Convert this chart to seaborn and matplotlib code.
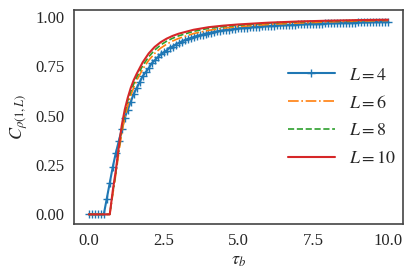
import numpy as np
import matplotlib
matplotlib.use("Agg")
import matplotlib.pyplot as plt
import seaborn as sns

# ---------------------------
# Data
# ---------------------------
tau_l4 = np.round(np.arange(0, 101) * 0.1, 1)
c_l4 = [
    0.0, 0.0, 0.0, 0.0, 0.0, 0.0, 0.08, 0.16, 0.24, 0.31,
    0.37, 0.43, 0.49, 0.53, 0.57, 0.61, 0.64, 0.67, 0.70, 0.72,
    0.74, 0.765, 0.78, 0.795, 0.81, 0.82, 0.83, 0.845, 0.85, 0.86,
    0.868, 0.875, 0.882, 0.888, 0.893, 0.898, 0.903, 0.907, 0.911, 0.915,
    0.918, 0.921, 0.924, 0.927, 0.930, 0.932, 0.934, 0.936, 0.938, 0.940,
    0.942, 0.943, 0.945, 0.946, 0.947, 0.949, 0.950, 0.951, 0.952, 0.953,
    0.954, 0.955, 0.956, 0.957, 0.957, 0.958, 0.959, 0.960, 0.960, 0.961,
    0.962, 0.962, 0.963, 0.964, 0.964, 0.965, 0.965, 0.966, 0.966, 0.967,
    0.967, 0.968, 0.968, 0.969, 0.969, 0.970, 0.970, 0.970, 0.971, 0.971,
    0.972, 0.972, 0.972, 0.973, 0.973, 0.974, 0.974, 0.974, 0.975, 0.975,
    0.975,
]

tau_big = [0.0, 0.7, 0.8, 0.9, 1.0, 1.1, 1.2, 1.3, 1.4, 1.5, 1.6, 1.8, 2.0,
           2.2, 2.4, 2.6, 2.8, 3.0, 3.5, 4.0, 4.5, 5.0, 6.0, 7.0, 8.0, 9.0, 10.0]
c_l6 = [0.0, 0.0, 0.10, 0.20, 0.31, 0.41, 0.49, 0.55, 0.60, 0.643, 0.678, 0.735,
        0.78, 0.815, 0.842, 0.862, 0.878, 0.891, 0.916, 0.932, 0.943, 0.951,
        0.962, 0.969, 0.975, 0.979, 0.982]
c_l8 = [0.0, 0.0, 0.11, 0.21, 0.33, 0.435, 0.515, 0.575, 0.622, 0.66, 0.695,
        0.753, 0.798, 0.832, 0.858, 0.877, 0.892, 0.904, 0.927, 0.942, 0.951,
        0.958, 0.968, 0.975, 0.979, 0.982, 0.985]
c_l10 = [0.0, 0.0, 0.12, 0.22, 0.34, 0.45, 0.53, 0.59, 0.64, 0.68, 0.712,
         0.77, 0.815, 0.848, 0.872, 0.89, 0.904, 0.915, 0.935, 0.948, 0.956,
         0.962, 0.971, 0.977, 0.981, 0.984, 0.986]

# ---------------------------
# Style
# ---------------------------
sns.set_style("white")
plt.rcParams["font.family"] = ["Liberation Serif", "DejaVu Serif"]
plt.rcParams["mathtext.fontset"] = "stix"
plt.rcParams["axes.edgecolor"] = "#444444"

fig, ax = plt.subplots(figsize=(4.15, 2.77), dpi=100)
fig.subplots_adjust(left=0.178, right=0.971, top=0.964, bottom=0.191)

sns.lineplot(x=tau_l4, y=c_l4, ax=ax, color="#1f77b4", lw=1.5,
             marker="+", markersize=6, markeredgewidth=1.0,
             markeredgecolor="#1f77b4", label="$L=4$")
sns.lineplot(x=tau_big, y=c_l6, ax=ax, color="#ff7f0e", lw=1.2,
             linestyle="-.", label="$L=6$")
sns.lineplot(x=tau_big, y=c_l8, ax=ax, color="#2ca02c", lw=1.2,
             linestyle="--", label="$L=8$")
sns.lineplot(x=tau_big, y=c_l10, ax=ax, color="#d62728", lw=1.5,
             linestyle="-", label="$L=10$")

ax.set_xticks([0.0, 2.5, 5.0, 7.5, 10.0])
ax.set_yticks([0.0, 0.25, 0.5, 0.75, 1.0])
ax.set_xticklabels(["0.0", "2.5", "5.0", "7.5", "10.0"])
ax.set_yticklabels(["0.00", "0.25", "0.50", "0.75", "1.00"])
ax.tick_params(labelsize=12, pad=3)
for sp in ax.spines.values():
    sp.set_linewidth(1.2)

ax.set_xlabel(r"$\tau_b$", fontsize=13, labelpad=2)
ax.set_ylabel(r"$C_{\rho(1,L)}$", fontsize=13, labelpad=4)

ax.legend(loc="center left", bbox_to_anchor=(0.6, 0.5), frameon=False,
          fontsize=13, handlelength=2.6, labelspacing=0.6, handletextpad=0.8)

plt.savefig("out.png", dpi=100)
